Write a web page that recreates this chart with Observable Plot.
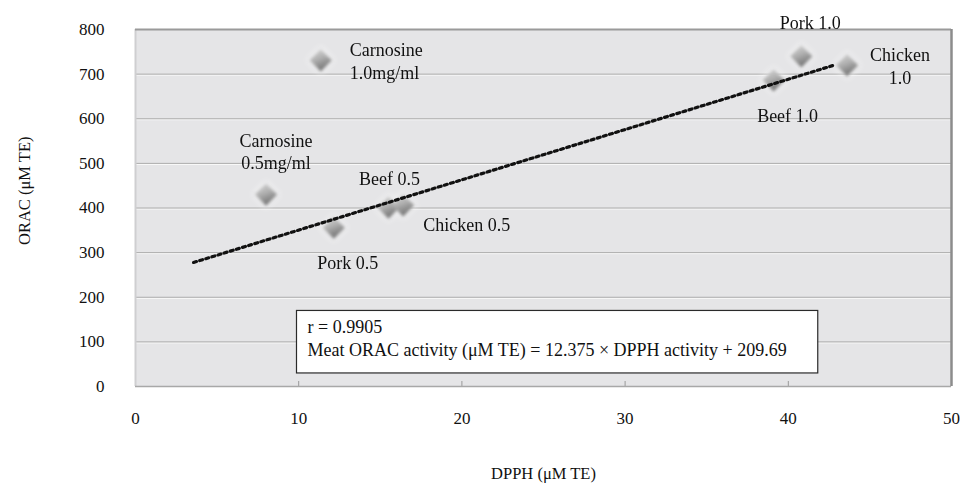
<!DOCTYPE html>
<html>
<head>
<meta charset="utf-8">
<script src="https://cdn.jsdelivr.net/npm/d3@7"></script>
<script src="https://cdn.jsdelivr.net/npm/@observablehq/plot@0.6"></script>
<style>
  html, body { margin: 0; padding: 0; background: #fff; }
  #chart svg { display: block; }
</style>
</head>
<body>
<div id="chart"></div>
<script>
// Antioxidant activity of meat extracts and carnosine standards
const samples = ["Carnosine 1.0mg/ml", "Carnosine 0.5mg/ml", "Pork 0.5", "Beef 0.5", "Chicken 0.5", "Beef 1.0", "Pork 1.0", "Chicken 1.0"];
const labels  = ["Carnosine\n1.0mg/ml", "Carnosine\n0.5mg/ml", "Pork 0.5", "Beef 0.5", "Chicken 0.5", "Beef 1.0", "Pork 1.0", "Chicken\n1.0"];
const dpph    = [11.35, 8.0, 12.15, 15.5, 16.4, 39.1, 40.8, 43.6];   // µM TE
const orac    = [731, 430, 356, 401, 406, 686, 740, 720];            // µM TE

// Dotted trend line as drawn on the chart
const trendX = [3.56, 42.8];
const trendY = [278, 720];

// Regression reported for the meat samples
const fitR = "0.9905";
const fitSlope = "12.375";
const fitIntercept = "209.69";

const xTicks = [0, 10, 20, 30, 40, 50];
const yTicks = [0, 100, 200, 300, 400, 500, 600, 700, 800];

const points = samples.map((name, i) => ({name, label: labels[i], x: dpph[i], y: orac[i]}));
const trend = trendX.map((x, i) => ({x, y: trendY[i]}));

// One label per point, offset from its diamond
function pointLabel(name, opts) {
  return Plot.text(points.filter(d => d.name === name), {
    x: "x", y: "y", text: "label", lineHeight: 1.27, fill: "#111", fontSize: 18, ...opts
  });
}

const serif = "'Liberation Serif', 'Times New Roman', Times, serif";

const chart = Plot.plot({
  width: 963,
  height: 483,
  marginLeft: 135,
  marginRight: 12,
  marginTop: 29,
  marginBottom: 97,
  x: {domain: [0, 50]},
  y: {domain: [0, 800]},
  style: {fontFamily: serif, fontSize: "17px", background: "#fff", color: "#111", overflow: "visible"},
  marks: [
    // plot area
    Plot.frame({fill: "#e5e5e7", stroke: null}),
    Plot.ruleY(yTicks.slice(1, -1), {stroke: "#fbfbfb", dy: 1}),
    Plot.ruleY(yTicks.slice(1, -1), {stroke: "#acacac"}),
    Plot.axisX(xTicks.slice(1, -1), {tickSize: -5, tickFormat: () => "", stroke: "#999", label: null}),
    // border
    Plot.ruleX([0], {stroke: "#cfcfd1", strokeWidth: 2}),
    Plot.ruleY([0], {stroke: "#a8a8a8", strokeWidth: 1.5}),
    Plot.ruleY([800], {stroke: "#9a9a9a", strokeWidth: 2}),
    Plot.ruleX([50], {stroke: "#8c8c8c", strokeWidth: 2.5}),
    // axes
    Plot.axisY(yTicks, {tickSize: 0, tickPadding: 31, label: null, fontSize: 17}),
    Plot.axisX(xTicks, {tickSize: 0, tickPadding: 25, label: null, fontSize: 17}),
    Plot.text(["DPPH (μM TE)"], {frameAnchor: "bottom", dy: 92, fontSize: 16.5}),
    Plot.text(["ORAC (μM TE)"], {frameAnchor: "left", dx: -111, dy: 37, rotate: -90, fontSize: 16.5}),
    // diamonds: soft halo, then the shaded marker
    Plot.dot(points, {x: "x", y: "y", symbol: "diamond2", r: 13.5, fill: "#ffffff", fillOpacity: 0.45, stroke: "none"}),
    Plot.dot(points, {x: "x", y: "y", symbol: "diamond2", r: 10, fill: "url(#diamondFill)", stroke: "none"}),
    // trend line
    Plot.line(trend, {x: "x", y: "y", stroke: "#111", strokeWidth: 3.2, strokeDasharray: "3,3.4"}),
    // point labels
    pointLabel("Carnosine 1.0mg/ml", {textAnchor: "start", dx: 29, dy: 0}),
    pointLabel("Carnosine 0.5mg/ml", {dx: 10, dy: -44}),
    pointLabel("Pork 0.5", {dx: 14, dy: 34}),
    pointLabel("Beef 0.5", {dx: 1, dy: -30}),
    pointLabel("Chicken 0.5", {textAnchor: "start", dx: 20, dy: 18}),
    pointLabel("Beef 1.0", {dx: 14, dy: 34}),
    pointLabel("Pork 1.0", {dx: 9, dy: -35}),
    pointLabel("Chicken 1.0", {dx: 53, dy: 0}),
    // regression statement
    Plot.text([`r = ${fitR}\nMeat ORAC activity (μM TE) = ${fitSlope} × DPPH activity + ${fitIntercept}`], {
      frameAnchor: "bottom-left", textAnchor: "start", lineAnchor: "middle",
      dx: 172, dy: -49, lineHeight: 1.25, fontSize: 18, fill: "#111"
    })
  ]
});

document.getElementById("chart").appendChild(chart);

// gradient and blur used by the diamond markers
const svg = d3.select(chart);
const defs = svg.insert("defs", ":first-child");
const grad = defs.append("linearGradient").attr("id", "diamondFill")
  .attr("x1", 0.2).attr("y1", 0).attr("x2", 0.6).attr("y2", 1);
grad.append("stop").attr("offset", "0%").attr("stop-color", "#d4d4d4");
grad.append("stop").attr("offset", "45%").attr("stop-color", "#b0b0b0");
grad.append("stop").attr("offset", "100%").attr("stop-color", "#6a6a6a");
defs.append("filter").attr("id", "softDot").attr("x", "-50%").attr("y", "-50%").attr("width", "200%").attr("height", "200%")
  .append("feGaussianBlur").attr("stdDeviation", 1.4);
defs.append("filter").attr("id", "haloBlur").attr("x", "-50%").attr("y", "-50%").attr("width", "200%").attr("height", "200%")
  .append("feGaussianBlur").attr("stdDeviation", 3);

const dotGroups = svg.selectAll('g[aria-label="dot"]').nodes();
if (dotGroups[0]) d3.select(dotGroups[0]).attr("filter", "url(#haloBlur)");
if (dotGroups[1]) d3.select(dotGroups[1]).attr("filter", "url(#softDot)");

// white box around the regression statement, drawn inside the text group
const textGroups = svg.selectAll('g[aria-label="text"]').nodes();
const eqGroup = textGroups[textGroups.length - 1];
const bb = eqGroup.getBBox();
d3.select(eqGroup).insert("rect", ":first-child")
  .attr("x", bb.x - 11).attr("y", bb.y - 7)
  .attr("width", bb.width + 42).attr("height", bb.height + 19)
  .attr("fill", "#fff").attr("stroke", "#2a2a2a").attr("stroke-width", 1.2);
</script>
</body>
</html>
